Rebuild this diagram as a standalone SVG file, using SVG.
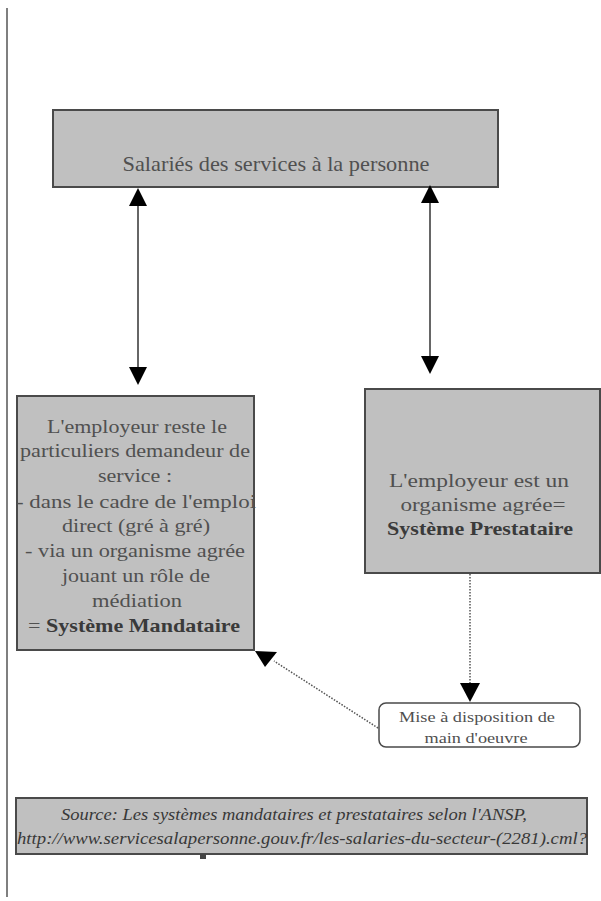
<svg xmlns="http://www.w3.org/2000/svg" width="601" height="901" viewBox="0 0 601 901">
  <style>
    .box { fill: #c0c0c0; stroke: #4a4a4a; stroke-width: 2; }
    .note { fill: #ffffff; stroke: #4a4a4a; stroke-width: 1.5; }
    .t { font-family: "Liberation Serif", "Times New Roman", serif; fill: #505050; text-anchor: middle; }
    .b { font-weight: bold; fill: #3a3a3a; }
    .src { font-family: "Liberation Serif", "Times New Roman", serif; font-style: italic; fill: #383838; text-anchor: middle; font-size: 16px; }
    .link { stroke: #333333; stroke-width: 1.5; fill: none; }
    .dot { stroke: #555555; stroke-width: 1.5; fill: none; stroke-dasharray: 1.5 1.5; }
    .head { fill: #000000; }
  </style>

  <rect width="601" height="901" fill="#ffffff"/>

  <!-- page margin rule -->
  <line x1="7" y1="8" x2="7" y2="897" stroke="#555555" stroke-width="1.5"/>

  <g id="salaries">
    <rect class="box" x="53" y="110" width="445" height="77"/>
    <text class="t" x="276" y="171" font-size="21" textLength="307" lengthAdjust="spacingAndGlyphs">Salariés des services à la personne</text>
  </g>

  <g id="mandataire">
    <rect class="box" x="17" y="396" width="237" height="254"/>
    <g class="t" font-size="19">
      <text x="137" y="433" textLength="180" lengthAdjust="spacingAndGlyphs">L'employeur reste le</text>
      <text x="135" y="457" textLength="230" lengthAdjust="spacingAndGlyphs">particuliers demandeur de</text>
      <text x="135" y="482" textLength="74" lengthAdjust="spacingAndGlyphs">service :</text>
      <text x="136" y="508" textLength="240" lengthAdjust="spacingAndGlyphs">- dans le cadre de l'emploi</text>
      <text x="136" y="532" textLength="148" lengthAdjust="spacingAndGlyphs">direct (gré à gré)</text>
      <text x="135" y="557" textLength="220" lengthAdjust="spacingAndGlyphs">- via un organisme agrée</text>
      <text x="136" y="582" textLength="148" lengthAdjust="spacingAndGlyphs">jouant un rôle de</text>
      <text x="137" y="607" textLength="90" lengthAdjust="spacingAndGlyphs">médiation</text>
      <text x="134" y="632" textLength="212" lengthAdjust="spacingAndGlyphs"><tspan>= </tspan><tspan class="b">Système Mandataire</tspan></text>
    </g>
  </g>

  <g id="prestataire">
    <rect class="box" x="365" y="389" width="235" height="184"/>
    <g class="t" font-size="19">
      <text x="479" y="487" textLength="180" lengthAdjust="spacingAndGlyphs">L'employeur est un</text>
      <text x="483" y="511" textLength="165" lengthAdjust="spacingAndGlyphs">organisme agrée=</text>
      <text class="b" x="480" y="535" textLength="186" lengthAdjust="spacingAndGlyphs">Système Prestataire</text>
    </g>
  </g>

  <g id="mise-a-disposition">
    <rect class="note" x="379" y="703" width="201" height="44" rx="7"/>
    <g class="t" font-size="14">
      <text x="477" y="722" textLength="156" lengthAdjust="spacingAndGlyphs">Mise à disposition de</text>
      <text x="476" y="743" textLength="103" lengthAdjust="spacingAndGlyphs">main d'oeuvre</text>
    </g>
  </g>

  <g id="source">
    <rect class="box" x="16" y="798" width="571" height="56"/>
    <text class="src" x="294" y="820" textLength="466" lengthAdjust="spacingAndGlyphs">Source: Les systèmes mandataires et prestataires selon l'ANSP,</text>
    <text class="src" x="302" y="844" textLength="570" lengthAdjust="spacingAndGlyphs">http://www.servicesalapersonne.gouv.fr/les-salaries-du-secteur-(2281).cml?</text>
    <rect x="200" y="854" width="6" height="5" fill="#444444"/>
  </g>

  <g id="connectors">
    <!-- two-way links to the employees box -->
    <line class="link" x1="138" y1="204" x2="138" y2="368"/>
    <polygon class="head" points="138,188 147,206 129,206"/>
    <polygon class="head" points="138,385 147,367 129,367"/>

    <line class="link" x1="430" y1="201" x2="430" y2="357"/>
    <polygon class="head" points="430,185 439,203 421,203"/>
    <polygon class="head" points="430,374 439,356 421,356"/>

    <!-- dotted links through the labour-provision note -->
    <line class="dot" x1="470" y1="574" x2="470" y2="684"/>
    <polygon class="head" points="460,683 480,683 470,702"/>

    <line class="dot" x1="378" y1="728" x2="274" y2="661"/>
    <polygon class="head" points="255,651 277,652 265,667"/>
  </g>
</svg>
